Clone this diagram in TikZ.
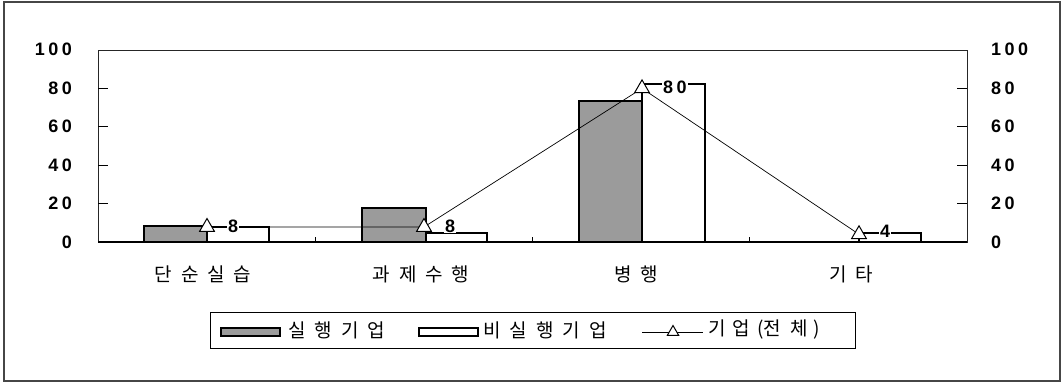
\documentclass[tikz,border=0pt]{standalone}
\usepackage{fontspec}
\setmainfont{Liberation Sans}
\newfontfamily\krfont{Noto Sans CJK KR}
\usetikzlibrary{shapes.geometric}
\definecolor{barGray}{RGB}{155,155,155}
\definecolor{frameGray}{RGB}{70,70,70}
\newcommand{\nsp}{\hspace{3.5pt}}
\newcommand{\ksp}{\hspace{9pt}}
\begin{document}
\begin{tikzpicture}[x=1pt,y=-1pt,
  num/.style={font=\fontsize{18}{18}\selectfont\bfseries, inner sep=0pt},
  kr/.style={font=\krfont\fontsize{19}{19}\selectfont, inner sep=0pt},
  graybar/.style={draw=black, line width=1.4pt, fill=barGray},
  whitebar/.style={draw=black, line width=1.1pt, fill=white},
  tri/.style={regular polygon, regular polygon sides=3, draw=black, fill=white, line width=1pt, minimum size=17pt, inner sep=0pt},
  ltri/.style={tri, minimum size=13pt},
  dlabel/.style={num, anchor=west, fill=white, inner sep=1pt},
  series/.style={draw=black, line width=0.7pt},
  tickline/.style={draw=black, line width=0.8pt}]
\useasboundingbox (0,0) rectangle (1062,382);
% chart area border
\draw[frameGray, line width=1.3pt] (4,2) rectangle (1060,381);
% plot area frame
\draw[black!85, line width=0.9pt] (98,50) rectangle (967,242);
% y ticks and labels
\foreach \v in {0,20,40,60,80} {
  \pgfmathsetmacro{\yy}{242-1.92*\v}
  \draw[tickline] (98,\yy) -- (108,\yy);
  \draw[tickline] (957,\yy) -- (967,\yy);
}
\node[num, anchor=east] (yl0) at (72,242) {0};
\node[num, anchor=east] (yl20) at (72,203.6) {2\nsp0};
\node[num, anchor=east] (yl40) at (72,165.2) {4\nsp0};
\node[num, anchor=east] (yl60) at (72,126.8) {6\nsp0};
\node[num, anchor=east] (yl80) at (72,88.4) {8\nsp0};
\node[num, anchor=east] (yl100) at (72,49) {1\nsp0\nsp0};
\node[num, anchor=west] (yr0) at (991,242) {0};
\node[num, anchor=west] (yr20) at (991,203.6) {2\nsp0};
\node[num, anchor=west] (yr40) at (991,165.2) {4\nsp0};
\node[num, anchor=west] (yr60) at (991,126.8) {6\nsp0};
\node[num, anchor=west] (yr80) at (991,88.4) {8\nsp0};
\node[num, anchor=west] (yr100) at (991,49) {1\nsp0\nsp0};
% bars
\draw[graybar] (144,242) rectangle (207,226);
\draw[whitebar] (207,242) rectangle (269,227);
\draw[graybar] (362,242) rectangle (426,208);
\draw[whitebar] (426,242) rectangle (487,233);
\draw[graybar] (579,242) rectangle (642,101);
\draw[whitebar] (642,242) rectangle (705,84);
\draw[whitebar] (859,242) rectangle (921,233);
% category ticks
\foreach \xx in {315.25,532.5,749.75} \draw[tickline] (\xx,242) -- (\xx,237);
% x axis
\draw[black, line width=1.1pt] (98,242) -- (967,242);
% line series
\coordinate (q1) at (207,227);
\coordinate (q2) at (424,227);
\coordinate (q3) at (642,88.4);
\coordinate (q4) at (859,234.3);
\draw[series] (q1) -- (q2) -- (q3) -- (q4);
\node[tri] (m1) at (q1) {};
\node[tri] (m2) at (q2) {};
\node[tri] (m3) at (q3) {};
\node[tri] (m4) at (q4) {};
\node[dlabel] (d1) at (227,226) {8};
\node[dlabel] (d2) at (444,226) {8};
\node[dlabel] (d3) at (662,87.5) {8\nsp0};
\node[dlabel] (d4) at (879,231) {4};
% category labels
\node[kr] (c1) at (203,274) {단\ksp{}순\ksp{}실\ksp{}습};
\node[kr] (c2) at (421,274) {과\ksp{}제\ksp{}수\ksp{}행};
\node[kr] (c3) at (636,274) {병\ksp{}행};
\node[kr] (c4) at (851,274) {기\ksp{}타};
% legend
\draw[black, line width=0.9pt] (210,312) rectangle (855,348);
\draw[graybar, line width=1.1pt] (221,328) rectangle (280,336);
\node[kr, anchor=west] (l1) at (288,330) {실\ksp{}행\ksp{}기\ksp{}업};
\draw[whitebar] (419,328) rectangle (478,336);
\node[kr, anchor=west] (l2) at (483,330) {비\ksp{}실\ksp{}행\ksp{}기\ksp{}업};
\coordinate (la) at (642,332);
\coordinate (lb) at (703,332);
\draw[series] (la) -- (lb);
\node[ltri] (lm) at (673,332) {};
\node[kr, anchor=west] (l3) at (708,330) {기\hspace{7pt}업\hspace{7pt}(전\hspace{9pt}체\hspace{6pt})};
\end{tikzpicture}
\end{document}
